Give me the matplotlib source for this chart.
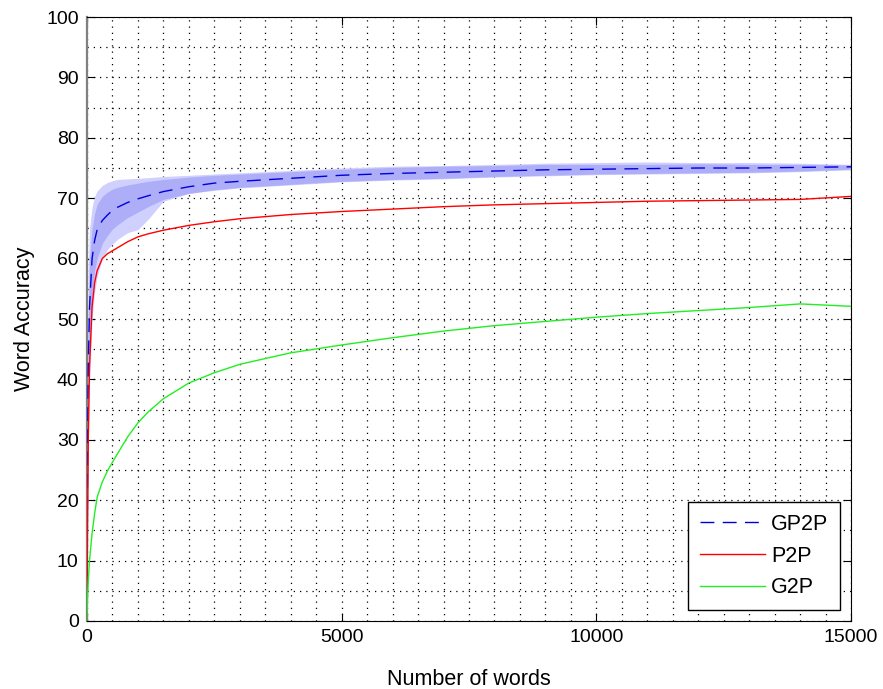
import matplotlib
matplotlib.use('Agg')
import matplotlib.pyplot as plt
from matplotlib.ticker import MultipleLocator

# data
words = [0, 10, 25, 50, 100, 150, 200, 300, 400, 500, 600, 800, 1000, 1200, 1500,
         2000, 2500, 3000, 4000, 5000, 6000, 7000, 8000, 9000, 10000, 11000, 12000,
         13000, 14000, 15000]
gp2p = [0, 25, 42, 52, 60, 63, 64.8, 66.3, 67.2, 68, 68.5, 69.3, 69.9, 70.4, 71.1,
        71.9, 72.5, 72.8, 73.3, 73.8, 74.1, 74.3, 74.5, 74.7, 74.8, 74.9, 75.0,
        75.0, 75.1, 75.2]
gp2p_in_lo = [0, 18, 35, 45, 54, 58, 60, 62.5, 63.8, 64.9, 65.6, 66.8, 67.7, 68.6, 69.8,
              70.8, 71.4, 71.8, 72.3, 72.8, 73.1, 73.3, 73.6, 73.8, 74.0, 74.1, 74.2,
              74.3, 74.5, 74.8]
gp2p_in_hi = [0, 32, 50, 60, 65, 67.5, 69, 70.3, 71, 71.5, 71.8, 72.2, 72.5, 72.8, 73.1,
              73.5, 73.8, 74.0, 74.4, 74.8, 75.1, 75.3, 75.4, 75.6, 75.6, 75.6, 75.7,
              75.6, 75.6, 75.5]
gp2p_out_lo = [0, 12, 28, 40, 50, 54.5, 57, 60, 61.5, 62.4, 63.2, 64.3, 64.8, 66.5, 69.5,
               70.8, 71.3, 71.7, 72.2, 72.7, 73.0, 73.2, 73.5, 73.7, 73.9, 74.0, 74.1,
               74.2, 74.4, 74.7]
gp2p_out_hi = [0, 40, 58, 65, 68.5, 70.3, 71.2, 72.1, 72.6, 72.9, 73.1, 73.2, 73.3, 73.4, 73.6,
               73.8, 74.0, 74.2, 74.6, 75.0, 75.3, 75.4, 75.6, 75.8, 75.9, 76.0, 75.9,
               75.9, 75.8, 75.6]
p2p = [0, 15, 30, 42, 52, 56, 58, 60, 60.8, 61.3, 61.8, 62.8, 63.6, 64.1, 64.7,
       65.5, 66.1, 66.6, 67.3, 67.8, 68.2, 68.6, 68.9, 69.1, 69.3, 69.5, 69.6,
       69.7, 69.8, 70.3]
g2p = [0, 3.5, 6.5, 10, 14.5, 17.8, 20.5, 23, 24.8, 26.3, 27.7, 30.5, 32.8, 34.6, 36.8,
       39.4, 41.1, 42.5, 44.4, 45.7, 46.9, 48, 48.9, 49.6, 50.3, 50.9, 51.4,
       51.9, 52.5, 52.1]

plt.rcParams['font.family'] = ['Liberation Sans', 'DejaVu Sans']

fig = plt.figure(figsize=(8.83, 6.89), dpi=100)
ax = fig.add_axes([0.0985, 0.0987, 0.8653, 0.8766])

# shaded spread of the GP2P runs
ax.fill_between(words, gp2p_out_lo, gp2p_out_hi, color='#d0d0ff', linewidth=0, zorder=1)
ax.fill_between(words, gp2p_in_lo, gp2p_in_hi, color='#aeaef8', linewidth=0, zorder=1)

ax.plot(words, gp2p, color='#0000dd', linestyle=(0, (10, 6)), linewidth=1, label='GP2P', zorder=3)
ax.plot(words, p2p, color='red', linewidth=1, label='P2P', zorder=3)
ax.plot(words, g2p, color='#22ee22', linewidth=1, label='G2P', zorder=3)

ax.set_xlim(0, 15000)
ax.set_ylim(0, 100)
ax.xaxis.set_major_locator(MultipleLocator(5000))
ax.xaxis.set_minor_locator(MultipleLocator(500))
ax.yaxis.set_major_locator(MultipleLocator(10))
ax.yaxis.set_minor_locator(MultipleLocator(5))
ax.grid(True, which='both', color='black', linestyle=(0, (1, 4)), linewidth=0.9)
ax.set_axisbelow(True)
ax.tick_params(which='both', direction='in', top=True, right=True, labelsize=14)
ax.tick_params(which='major', length=6, pad=6)
ax.tick_params(which='minor', length=0)
ax.spines['left'].set_color('#808080')
ax.spines['left'].set_linewidth(1.6)

ax.set_xlabel('Number of words', fontsize=15.5, labelpad=16)
ax.set_ylabel('Word Accuracy', fontsize=15.5, labelpad=8)

leg = ax.legend(loc='lower right', fontsize=15.5, fancybox=False, framealpha=1,
                edgecolor='black', handlelength=3, handletextpad=0.3,
                labelspacing=0.5, borderpad=0.55, borderaxespad=0.5)
leg.get_frame().set_linewidth(1)

plt.savefig('out.png', dpi=100)
